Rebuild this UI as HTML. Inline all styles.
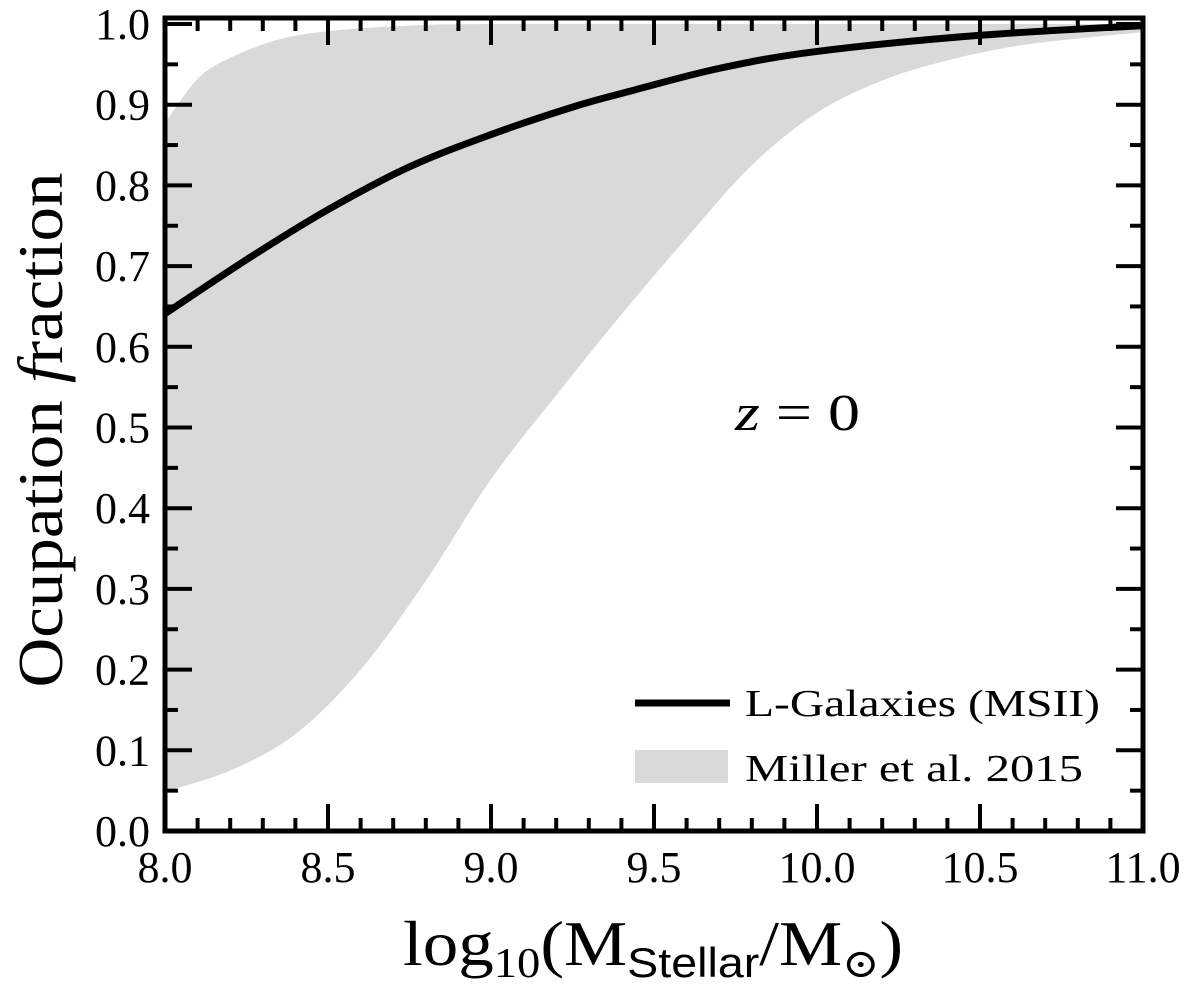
<!DOCTYPE html>
<html><head><meta charset="utf-8"><style>
html,body{margin:0;padding:0;background:#fff}
svg text{font-family:"Liberation Serif","DejaVu Serif",serif;fill:#000}
</style></head><body>
<svg id="chart" width="1200" height="988" xmlns="http://www.w3.org/2000/svg">
<g id="band"></g>
<g id="line"></g>
<g id="ticks"></g>
<rect x="165" y="18" width="978" height="813" fill="none" stroke="#000" stroke-width="5"/>
<g id="labels"></g>
<text x="52" y="430" font-size="64" text-anchor="middle" textLength="515" lengthAdjust="spacingAndGlyphs" transform="rotate(-90 52 430) translate(0 10)">Ocupation <tspan font-style="italic">f</tspan>raction</text>
<text x="653" y="965" font-size="64" text-anchor="middle" textLength="500" lengthAdjust="spacingAndGlyphs">log<tspan font-size="42" dy="12">10</tspan><tspan dy="-12">(M</tspan><tspan font-size="42" dy="12" font-family="Liberation Sans, sans-serif">Stellar</tspan><tspan dy="-12">/M</tspan><tspan font-size="40" dy="12">⊙</tspan><tspan dy="-12">)</tspan></text>
<text x="735" y="430" font-size="52" textLength="125" lengthAdjust="spacingAndGlyphs"><tspan font-style="italic">z</tspan> = 0</text>
<g>
<line x1="635" y1="703" x2="730" y2="703" stroke="#000" stroke-width="7"/>
<text x="745" y="716" font-size="38" textLength="355" lengthAdjust="spacingAndGlyphs">L-Galaxies (MSII)</text>
<rect x="635" y="750" width="93" height="33" fill="#d9d9d9"/>
<text x="745" y="781" font-size="38" textLength="338" lengthAdjust="spacingAndGlyphs">Miller et al. 2015</text>
</g>
</svg>
<script>
const upperX = [8.0,8.1,8.2,8.35,8.5,8.7,9.0,10.0,11.0];
const bandUpper = [0.877,0.932,0.958,0.981,0.991,0.997,1.0,1.0,1.0];
const lowerX = [8.0,8.2,8.4,8.6,8.8,9.0,9.2,9.4,9.6,9.8,10.0,10.2,10.4,10.6,10.8,11.0];
const bandLower = [0.049,0.075,0.12,0.2,0.31,0.436,0.54,0.64,0.735,0.825,0.89,0.93,0.955,0.972,0.982,0.99];
const lineX = [8.0,8.25,8.5,8.75,9.0,9.25,9.42,9.7,10.0,10.5,11.0];
const lineY = [0.641,0.708,0.770,0.823,0.863,0.897,0.916,0.945,0.966,0.986,0.998];
const xTicks = ["8.0","8.5","9.0","9.5","10.0","10.5","11.0"];
const yTicks = ["0.0","0.1","0.2","0.3","0.4","0.5","0.6","0.7","0.8","0.9","1.0"];
const NS="http://www.w3.org/2000/svg";
const X=v=>165+(v-8)*326;
const Y=v=>831-v*807;
function mk(t,a){const e=document.createElementNS(NS,t);for(const k in a)e.setAttribute(k,a[k]);return e;}
function smooth(xs,ys){
  const p=xs.map((x,i)=>[X(x),Y(ys[i])]);
  let d="";
  for(let i=0;i<p.length-1;i++){
    const p0=p[Math.max(0,i-1)],p1=p[i],p2=p[i+1],p3=p[Math.min(p.length-1,i+2)];
    const c1=[p1[0]+(p2[0]-p0[0])/6,p1[1]+(p2[1]-p0[1])/6];
    const c2=[p2[0]-(p3[0]-p1[0])/6,p2[1]-(p3[1]-p1[1])/6];
    d+="C"+c1+" "+c2+" "+p2;
  }
  return {start:p[0],d:d};
}
const up=smooth(upperX,bandUpper);
const lo=smooth(lowerX.slice().reverse(),bandLower.slice().reverse());
const bp=mk("path",{d:"M"+up.start+up.d+"L"+lo.start+lo.d+"Z",fill:"#d9d9d9"});


document.getElementById("band").appendChild(bp);
const ln=smooth(lineX,lineY);
const lp=mk("path",{d:"M"+ln.start+ln.d,fill:"none",stroke:"#000","stroke-width":7,"stroke-linejoin":"round"});


document.getElementById("line").appendChild(lp);
const tg=document.getElementById("ticks"),lg=document.getElementById("labels");
for(let i=0;i<=30;i++){const x=X(8+i*0.1),L=i%5==0?27:13;
 tg.appendChild(mk("line",{x1:x,y1:831,x2:x,y2:831-L,stroke:"#000","stroke-width":4}));
 tg.appendChild(mk("line",{x1:x,y1:18,x2:x,y2:18+L,stroke:"#000","stroke-width":4}));}
for(let i=0;i<=20;i++){const y=Y(i*0.05),L=i%2==0?27:13;
 tg.appendChild(mk("line",{x1:165,y1:y,x2:165+L,y2:y,stroke:"#000","stroke-width":4}));
 tg.appendChild(mk("line",{x1:1143,y1:y,x2:1143-L,y2:y,stroke:"#000","stroke-width":4}));}
xTicks.forEach(t=>{const e=mk("text",{x:X(parseFloat(t)),y:882,"font-size":44,"text-anchor":"middle"});e.textContent=t;
 
 
 lg.appendChild(e);});
yTicks.forEach(t=>{const e=mk("text",{x:150,y:Y(parseFloat(t))+15,"font-size":44,"text-anchor":"end"});e.textContent=t;
 
 
 lg.appendChild(e);});
</script>
</body></html>
